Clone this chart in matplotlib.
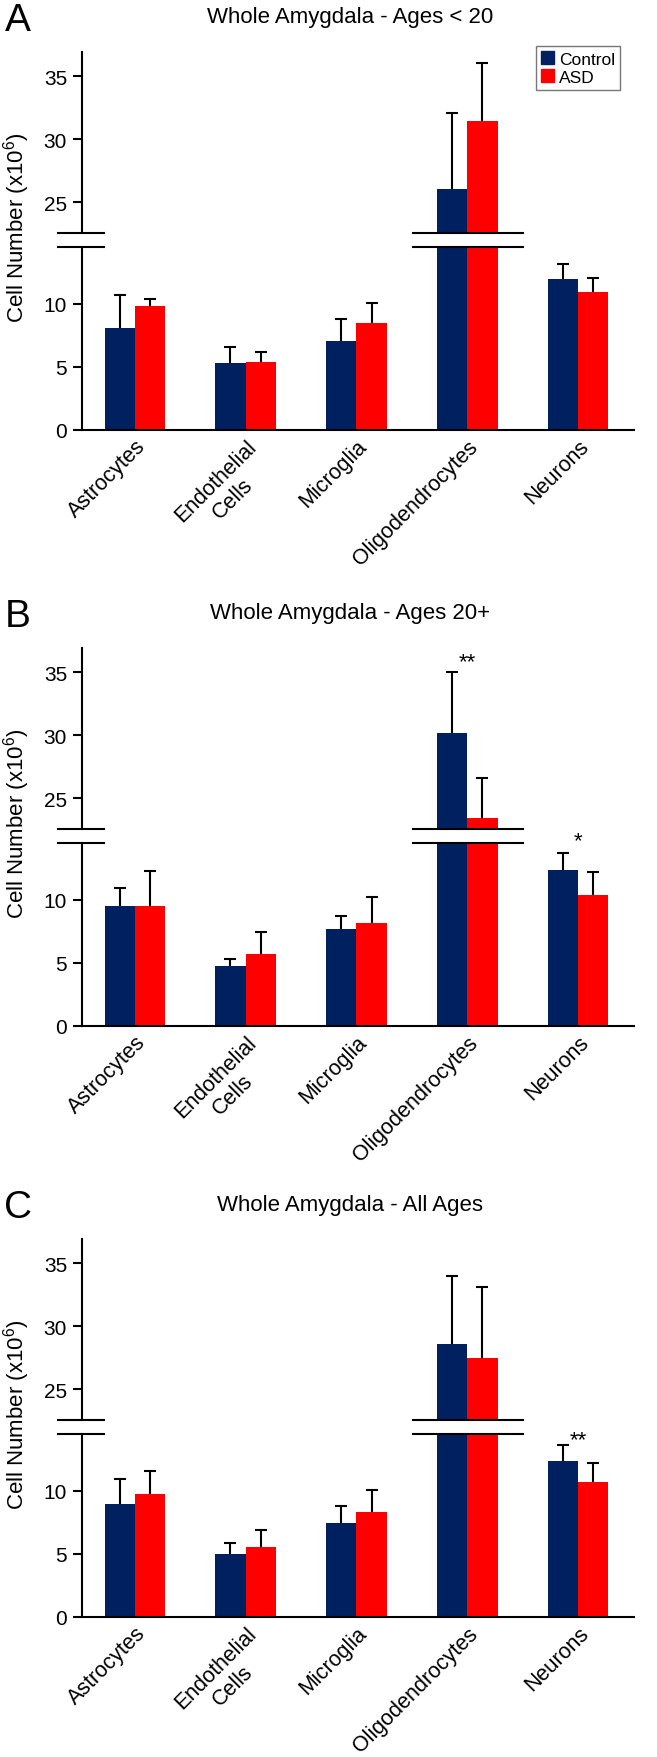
import matplotlib.pyplot as plt
from matplotlib.patches import Patch
import numpy as np

plt.rcParams['font.family'] = ['Liberation Sans', 'DejaVu Sans']
plt.rcParams['mathtext.fontset'] = 'custom'
plt.rcParams['mathtext.rm'] = 'Liberation Sans'

categories = ['Astrocytes', 'Endothelial\nCells', 'Microglia', 'Oligodendrocytes', 'Neurons']
letters = ['A', 'B', 'C']
titles = ['Whole Amygdala - Ages < 20', 'Whole Amygdala - Ages 20+', 'Whole Amygdala - All Ages']

control_mean = [[8.1, 5.3, 7.05, 26.05, 11.95],
                [9.49, 4.73, 7.70, 30.19, 12.35],
                [8.93, 4.99, 7.44, 28.6, 12.35]]
control_err = [[2.64, 1.3, 1.75, 6.0, 1.24],
               [1.42, 0.62, 1.04, 4.81, 1.39],
               [1.98, 0.88, 1.33, 5.34, 1.28]]
asd_mean = [[9.87, 5.4, 8.46, 31.4, 10.98],
            [9.49, 5.72, 8.21, 23.42, 10.43],
            [9.73, 5.55, 8.37, 27.47, 10.72]]
asd_err = [[0.56, 0.8, 1.62, 4.6, 1.07],
           [2.84, 1.77, 2.03, 3.18, 1.82],
           [1.82, 1.33, 1.68, 5.63, 1.49]]
# significance marks: (category index, text, y)
sig_marks = [[], [(3, '**', 35.8), (4, '*', 14.7)], [(4, '**', 14.05)]]

navy = '#002060'
red = '#ff0000'
W, H = 657, 1758

fig = plt.figure(figsize=(W / 100, H / 100), dpi=100)


def rect(x0, y0, x1, y1):
    return [x0 / W, 1 - y1 / H, (x1 - x0) / W, (y1 - y0) / H]


def up_errorbar(ax, xs, ys, errs):
    eb = ax.errorbar(xs, ys, yerr=[np.zeros(len(errs)), errs], fmt='none', ecolor='black',
                     elinewidth=1.5, capsize=4.5, capthick=1.5, zorder=1)
    # only the upper cap is drawn
    eb[1][0].set_visible(False)


offsets = [0, 596, 1187]
x = np.arange(len(categories))
bw = 0.275

for p in range(3):
    off = offsets[p]
    ax_top = fig.add_axes(rect(81.7, 53 + off, 634, 234 + off))
    ax_bot = fig.add_axes(rect(81.7, 248 + off, 634, 431 + off))

    for ax in (ax_top, ax_bot):
        ax.bar(x - bw / 2, control_mean[p], bw, color=navy, zorder=2)
        ax.bar(x + bw / 2, asd_mean[p], bw, color=red, zorder=2)
        up_errorbar(ax, x - bw / 2, control_mean[p], control_err[p])
        up_errorbar(ax, x + bw / 2, asd_mean[p], asd_err[p])
        ax.set_xlim(-0.481, 4.506)
        ax.spines['top'].set_visible(False)
        ax.spines['right'].set_visible(False)
        ax.spines['left'].set_linewidth(1.5)
        ax.spines['bottom'].set_linewidth(1.5)
        ax.tick_params(axis='y', direction='out', length=6.5, width=1.5, labelsize=15, pad=4)
        ax.tick_params(axis='x', length=0)
        ax.set_xticks([])

    ax_top.set_ylim(22.54, 36.91)
    ax_top.set_yticks([25, 30, 35])
    ax_top.spines['bottom'].set_visible(False)
    ax_bot.set_ylim(0, 14.52)
    ax_bot.set_yticks([0, 5, 10])

    # break marks
    kw = dict(color='black', lw=1.5, clip_on=False)
    ax_top.plot([-0.043, 0.04], [0, 0], transform=ax_top.transAxes, **kw)
    ax_bot.plot([-0.043, 0.04], [1, 1], transform=ax_bot.transAxes, **kw)
    ax_top.plot([2.51, 3.5], [0, 0], transform=ax_top.get_xaxis_transform(), **kw)
    ax_bot.plot([2.51, 3.5], [1, 1], transform=ax_bot.get_xaxis_transform(), **kw)

    for i, lab in enumerate(categories):
        ax_bot.text(i + 0.0, -0.45, lab, rotation=45, ha='right', va='top',
                    rotation_mode='anchor', multialignment='center', fontsize=15.5)

    for i, s, yv in sig_marks[p]:
        target = ax_top if yv > 20 else ax_bot
        target.text(i, yv, s, ha='center', va='center', fontsize=16)

    fig.text(350 / W, 1 - (18 + off) / H, titles[p], ha='center', va='center', fontsize=16)
    fig.text(18 / W, 1 - (21 + off) / H, letters[p], ha='center', va='center', fontsize=28)
    fig.text(17 / W, 1 - (228 + off) / H, r'Cell Number (x$\mathregular{10^6}$)',
             rotation=90, ha='center', va='center', fontsize=16)

    if p == 0:
        handles = [Patch(color=navy, label='Control'), Patch(color=red, label='ASD')]
        leg = fig.legend(handles=handles, loc='upper right', bbox_to_anchor=(620 / W, 1 - 47 / H),
                         bbox_transform=fig.transFigure, fontsize=12.5, handlelength=0.75,
                         handleheight=0.75, handletextpad=0.25, labelspacing=0.15,
                         borderpad=0.3, borderaxespad=0, fancybox=False, framealpha=1)
        leg.get_frame().set_edgecolor('#777777')
        leg.get_frame().set_linewidth(1)

fig.savefig('out.png', dpi=100)
